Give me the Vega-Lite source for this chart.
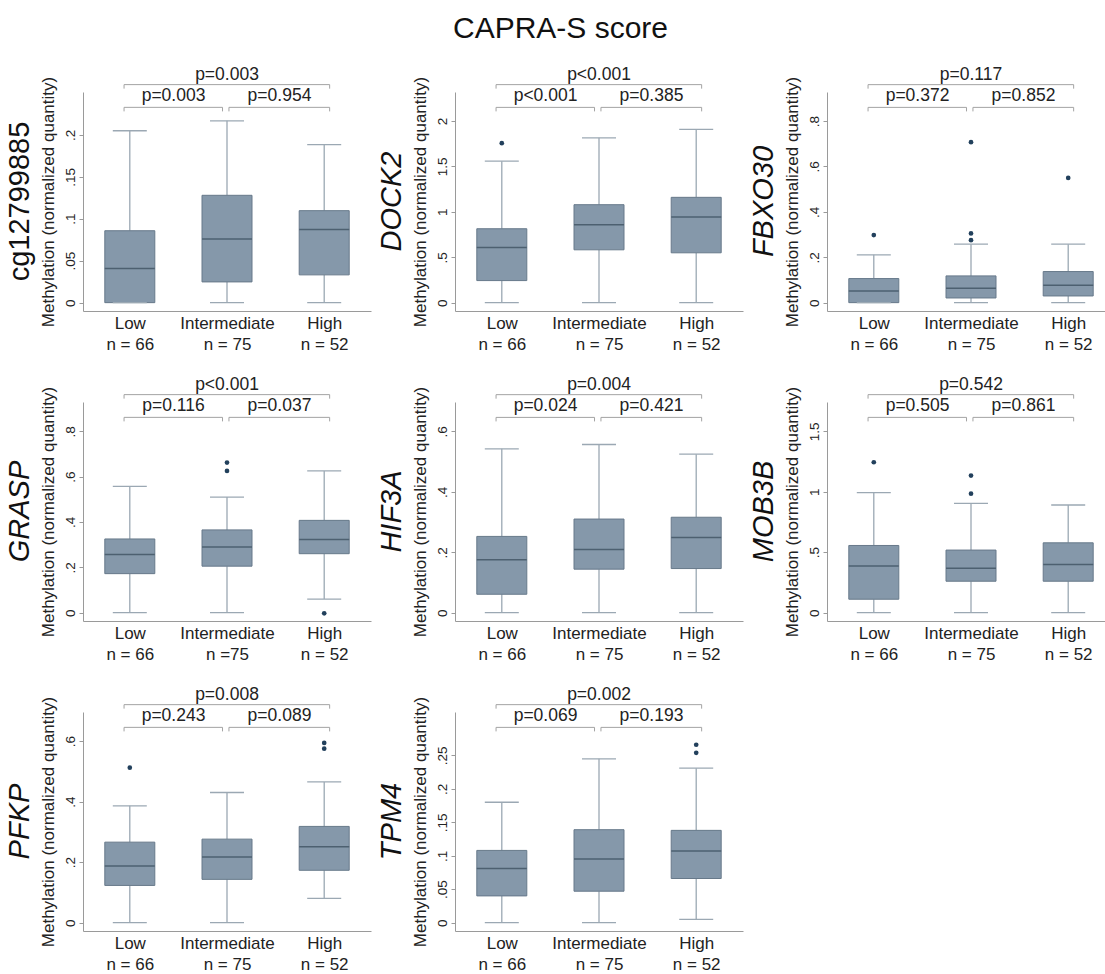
{
"$schema": "https://vega.github.io/schema/vega-lite/v6.json",
"padding": {"left": 5, "top": 14, "right": 0, "bottom": 0},
"title": {"text": "CAPRA-S score", "fontSize": 30, "fontWeight": "normal", "anchor": "middle", "offset": 22, "color": "#111"},
"datasets": {
"boxes": [
{"gene":"cg12799885","cat":1,"lo":0,"q1":0,"med":0.0406,"q3":0.0857,"hi":0.2048},
{"gene":"cg12799885","cat":2,"lo":0,"q1":0.0247,"med":0.0757,"q3":0.1279,"hi":0.2167},
{"gene":"cg12799885","cat":3,"lo":0,"q1":0.0331,"med":0.0873,"q3":0.1096,"hi":0.1884},
{"gene":"DOCK2","cat":1,"lo":0,"q1":0.243,"med":0.608,"q3":0.814,"hi":1.558},
{"gene":"DOCK2","cat":2,"lo":0,"q1":0.582,"med":0.858,"q3":1.079,"hi":1.816},
{"gene":"DOCK2","cat":3,"lo":0,"q1":0.549,"med":0.943,"q3":1.16,"hi":1.908},
{"gene":"FBXO30","cat":1,"lo":0,"q1":0,"med":0.0516,"q3":0.1061,"hi":0.2107},
{"gene":"FBXO30","cat":2,"lo":0,"q1":0.0206,"med":0.0634,"q3":0.1179,"hi":0.2578},
{"gene":"FBXO30","cat":3,"lo":0,"q1":0.0295,"med":0.0766,"q3":0.137,"hi":0.2578},
{"gene":"GRASP","cat":1,"lo":0,"q1":0.172,"med":0.257,"q3":0.325,"hi":0.557},
{"gene":"GRASP","cat":2,"lo":0,"q1":0.205,"med":0.29,"q3":0.365,"hi":0.51},
{"gene":"GRASP","cat":3,"lo":0.06,"q1":0.26,"med":0.323,"q3":0.407,"hi":0.625},
{"gene":"HIF3A","cat":1,"lo":0,"q1":0.0609,"med":0.175,"q3":0.2525,"hi":0.5426},
{"gene":"HIF3A","cat":2,"lo":0,"q1":0.144,"med":0.209,"q3":0.31,"hi":0.557},
{"gene":"HIF3A","cat":3,"lo":0,"q1":0.146,"med":0.249,"q3":0.316,"hi":0.525},
{"gene":"MOB3B","cat":1,"lo":0,"q1":0.111,"med":0.387,"q3":0.556,"hi":0.994},
{"gene":"MOB3B","cat":2,"lo":0,"q1":0.26,"med":0.368,"q3":0.518,"hi":0.905},
{"gene":"MOB3B","cat":3,"lo":0,"q1":0.26,"med":0.398,"q3":0.578,"hi":0.891},
{"gene":"PFKP","cat":1,"lo":0,"q1":0.123,"med":0.187,"q3":0.266,"hi":0.386},
{"gene":"PFKP","cat":2,"lo":0,"q1":0.143,"med":0.217,"q3":0.276,"hi":0.43},
{"gene":"PFKP","cat":3,"lo":0.08,"q1":0.173,"med":0.251,"q3":0.318,"hi":0.465},
{"gene":"TPM4","cat":1,"lo":0,"q1":0.04,"med":0.081,"q3":0.108,"hi":0.18},
{"gene":"TPM4","cat":2,"lo":0,"q1":0.047,"med":0.095,"q3":0.139,"hi":0.245},
{"gene":"TPM4","cat":3,"lo":0.005,"q1":0.066,"med":0.107,"q3":0.138,"hi":0.231}
],
"outliers": [
{"gene":"DOCK2","cat":1,"v":1.757},
{"gene":"FBXO30","cat":1,"v":0.2976},
{"gene":"FBXO30","cat":2,"v":0.2755},
{"gene":"FBXO30","cat":2,"v":0.305},
{"gene":"FBXO30","cat":2,"v":0.7072},
{"gene":"FBXO30","cat":3,"v":0.5495},
{"gene":"GRASP","cat":2,"v":0.625},
{"gene":"GRASP","cat":2,"v":0.662},
{"gene":"GRASP","cat":3,"v":-0.003},
{"gene":"MOB3B","cat":1,"v":1.245},
{"gene":"MOB3B","cat":2,"v":0.985},
{"gene":"MOB3B","cat":2,"v":1.135},
{"gene":"PFKP","cat":1,"v":0.512},
{"gene":"PFKP","cat":3,"v":0.575},
{"gene":"PFKP","cat":3,"v":0.594},
{"gene":"TPM4","cat":3,"v":0.254},
{"gene":"TPM4","cat":3,"v":0.266}
],
"sig": [
{"gene":"cg12799885","from":0.941,"to":3.056,"mid":2.0,"y":0.2598,"tip":0.255,"ty":0.2709,"p":"p=0.003"},
{"gene":"cg12799885","from":0.941,"to":1.954,"mid":1.45,"y":0.2327,"tip":0.2279,"ty":0.2462,"p":"p=0.003"},
{"gene":"cg12799885","from":2.02,"to":3.056,"mid":2.54,"y":0.2327,"tip":0.2279,"ty":0.2462,"p":"p=0.954"},
{"gene":"DOCK2","from":0.941,"to":3.056,"mid":2.0,"y":2.4015,"tip":2.3573,"ty":2.5046,"p":"p<0.001"},
{"gene":"DOCK2","from":0.941,"to":1.954,"mid":1.45,"y":2.151,"tip":2.1068,"ty":2.2762,"p":"p<0.001"},
{"gene":"DOCK2","from":2.02,"to":3.056,"mid":2.54,"y":2.151,"tip":2.1068,"ty":2.2762,"p":"p=0.385"},
{"gene":"FBXO30","from":0.941,"to":3.056,"mid":2.0,"y":0.9606,"tip":0.9429,"ty":1.0018,"p":"p=0.117"},
{"gene":"FBXO30","from":0.941,"to":1.954,"mid":1.45,"y":0.8604,"tip":0.8427,"ty":0.9105,"p":"p=0.372"},
{"gene":"FBXO30","from":2.02,"to":3.056,"mid":2.54,"y":0.8604,"tip":0.8427,"ty":0.9105,"p":"p=0.852"},
{"gene":"GRASP","from":0.941,"to":3.056,"mid":2.0,"y":0.9617,"tip":0.944,"ty":1.0029,"p":"p<0.001"},
{"gene":"GRASP","from":0.941,"to":1.954,"mid":1.45,"y":0.8614,"tip":0.8437,"ty":0.9115,"p":"p=0.116"},
{"gene":"GRASP","from":2.02,"to":3.056,"mid":2.54,"y":0.8614,"tip":0.8437,"ty":0.9115,"p":"p=0.037"},
{"gene":"HIF3A","from":0.941,"to":3.056,"mid":2.0,"y":0.722,"tip":0.7087,"ty":0.753,"p":"p=0.004"},
{"gene":"HIF3A","from":0.941,"to":1.954,"mid":1.45,"y":0.6467,"tip":0.6334,"ty":0.6844,"p":"p=0.024"},
{"gene":"HIF3A","from":2.02,"to":3.056,"mid":2.54,"y":0.6467,"tip":0.6334,"ty":0.6844,"p":"p=0.421"},
{"gene":"MOB3B","from":0.941,"to":3.056,"mid":2.0,"y":1.8046,"tip":1.7714,"ty":1.8821,"p":"p=0.542"},
{"gene":"MOB3B","from":0.941,"to":1.954,"mid":1.45,"y":1.6164,"tip":1.5832,"ty":1.7105,"p":"p=0.505"},
{"gene":"MOB3B","from":2.02,"to":3.056,"mid":2.54,"y":1.6164,"tip":1.5832,"ty":1.7105,"p":"p=0.861"},
{"gene":"PFKP","from":0.941,"to":3.056,"mid":2.0,"y":0.7204,"tip":0.7072,"ty":0.7514,"p":"p=0.008"},
{"gene":"PFKP","from":0.941,"to":1.954,"mid":1.45,"y":0.6453,"tip":0.632,"ty":0.6829,"p":"p=0.243"},
{"gene":"PFKP","from":2.02,"to":3.056,"mid":2.54,"y":0.6453,"tip":0.632,"ty":0.6829,"p":"p=0.089"},
{"gene":"TPM4","from":0.941,"to":3.056,"mid":2.0,"y":0.326,"tip":0.32,"ty":0.34,"p":"p=0.002"},
{"gene":"TPM4","from":0.941,"to":1.954,"mid":1.45,"y":0.292,"tip":0.286,"ty":0.309,"p":"p=0.069"},
{"gene":"TPM4","from":2.02,"to":3.056,"mid":2.54,"y":0.292,"tip":0.286,"ty":0.309,"p":"p=0.193"}
]
},
"columns": 3,
"spacing": {"row": 24, "column": 6},
"resolve": {"scale": {"x": "independent", "y": "independent"}},
"concat": [
{"width": 288, "height": 219,
 "title": {"text": "cg12799885", "orient": "left", "anchor": "middle", "frame": "group", "fontSize": 29, "fontWeight": "normal", "offset": 4, "color": "#111"},
 "layer": [
  {"data": {"name": "boxes"}, "transform": [{"filter": "datum.gene == 'cg12799885'"}],
   "encoding": {"x": {"field": "cat", "type": "quantitative", "scale": {"domain": [0.57, 3.43], "nice": false, "zero": false}, "axis": {"values": [1,2,3], "title": null, "labelExpr": "datum.value == 1 ? ['Low', 'n = 66'] : datum.value == 2 ? ['Intermediate', 'n = 75'] : ['High', 'n = 52']"}}},
   "layer": [
    {"mark": {"type": "rule", "color": "#9ba8b3", "strokeWidth": 1.3}, "encoding": {"y": {"field": "lo", "type": "quantitative", "scale": {"domain": [-0.00996, 0.251], "nice": false, "zero": false}, "axis": {"values": [0,0.05,0.1,0.15,0.2], "format": "~g", "labelExpr": "replace(datum.label, '0.', '.')", "title": "Methylation (normalized quantity)"}}, "y2": {"field": "q1"}}},
    {"mark": {"type": "rule", "color": "#9ba8b3", "strokeWidth": 1.3}, "encoding": {"y": {"field": "q3", "type": "quantitative"}, "y2": {"field": "hi"}}},
    {"mark": {"type": "bar", "size": 50, "fill": "#8598aa", "stroke": "#67798a", "strokeWidth": 1}, "encoding": {"y": {"field": "q1", "type": "quantitative"}, "y2": {"field": "q3"}}},
    {"mark": {"type": "tick", "orient": "horizontal", "size": 50, "thickness": 1.5, "color": "#4d6070", "opacity": 1}, "encoding": {"y": {"field": "med", "type": "quantitative"}}},
    {"mark": {"type": "tick", "orient": "horizontal", "size": 34, "thickness": 1.3, "color": "#9ba8b3", "opacity": 1}, "encoding": {"y": {"field": "hi", "type": "quantitative"}}},
    {"mark": {"type": "tick", "orient": "horizontal", "size": 34, "thickness": 1.3, "color": "#9ba8b3", "opacity": 1}, "encoding": {"y": {"field": "lo", "type": "quantitative"}}}
   ]},
  {"data": {"name": "sig"}, "transform": [{"filter": "datum.gene == 'cg12799885'"}],
   "layer": [
    {"mark": {"type": "rule", "color": "#a3a3a3", "strokeWidth": 1}, "encoding": {"x": {"field": "from", "type": "quantitative"}, "x2": {"field": "to"}, "y": {"field": "y", "type": "quantitative"}}},
    {"mark": {"type": "rule", "color": "#a3a3a3", "strokeWidth": 1}, "encoding": {"x": {"field": "from", "type": "quantitative"}, "y": {"field": "y", "type": "quantitative"}, "y2": {"field": "tip"}}},
    {"mark": {"type": "rule", "color": "#a3a3a3", "strokeWidth": 1}, "encoding": {"x": {"field": "to", "type": "quantitative"}, "y": {"field": "y", "type": "quantitative"}, "y2": {"field": "tip"}}},
    {"mark": {"type": "text", "fontSize": 17.5, "color": "#222", "baseline": "middle"}, "encoding": {"x": {"field": "mid", "type": "quantitative"}, "y": {"field": "ty", "type": "quantitative"}, "text": {"field": "p"}}}
   ]}
 ]},
{"width": 288, "height": 219,
 "title": {"text": "DOCK2", "orient": "left", "anchor": "middle", "frame": "group", "fontSize": 29, "fontWeight": "normal", "fontStyle": "italic", "offset": 4, "color": "#111"},
 "layer": [
  {"data": {"name": "boxes"}, "transform": [{"filter": "datum.gene == 'DOCK2'"}],
   "encoding": {"x": {"field": "cat", "type": "quantitative", "scale": {"domain": [0.57, 3.43], "nice": false, "zero": false}, "axis": {"values": [1,2,3], "title": null, "labelExpr": "datum.value == 1 ? ['Low', 'n = 66'] : datum.value == 2 ? ['Intermediate', 'n = 75'] : ['High', 'n = 52']"}}},
   "layer": [
    {"mark": {"type": "rule", "color": "#9ba8b3", "strokeWidth": 1.3}, "encoding": {"y": {"field": "lo", "type": "quantitative", "scale": {"domain": [-0.0921, 2.3204], "nice": false, "zero": false}, "axis": {"values": [0,0.5,1,1.5,2], "format": "~g", "labelExpr": "replace(datum.label, '0.', '.')", "title": "Methylation (normalized quantity)"}}, "y2": {"field": "q1"}}},
    {"mark": {"type": "rule", "color": "#9ba8b3", "strokeWidth": 1.3}, "encoding": {"y": {"field": "q3", "type": "quantitative"}, "y2": {"field": "hi"}}},
    {"mark": {"type": "bar", "size": 50, "fill": "#8598aa", "stroke": "#67798a", "strokeWidth": 1}, "encoding": {"y": {"field": "q1", "type": "quantitative"}, "y2": {"field": "q3"}}},
    {"mark": {"type": "tick", "orient": "horizontal", "size": 50, "thickness": 1.5, "color": "#4d6070", "opacity": 1}, "encoding": {"y": {"field": "med", "type": "quantitative"}}},
    {"mark": {"type": "tick", "orient": "horizontal", "size": 34, "thickness": 1.3, "color": "#9ba8b3", "opacity": 1}, "encoding": {"y": {"field": "hi", "type": "quantitative"}}},
    {"mark": {"type": "tick", "orient": "horizontal", "size": 34, "thickness": 1.3, "color": "#9ba8b3", "opacity": 1}, "encoding": {"y": {"field": "lo", "type": "quantitative"}}}
   ]},
  {"data": {"name": "outliers"}, "transform": [{"filter": "datum.gene == 'DOCK2'"}],
   "mark": {"type": "point", "filled": true, "size": 22, "color": "#22405c", "opacity": 1},
   "encoding": {"x": {"field": "cat", "type": "quantitative"}, "y": {"field": "v", "type": "quantitative"}}},
  {"data": {"name": "sig"}, "transform": [{"filter": "datum.gene == 'DOCK2'"}],
   "layer": [
    {"mark": {"type": "rule", "color": "#a3a3a3", "strokeWidth": 1}, "encoding": {"x": {"field": "from", "type": "quantitative"}, "x2": {"field": "to"}, "y": {"field": "y", "type": "quantitative"}}},
    {"mark": {"type": "rule", "color": "#a3a3a3", "strokeWidth": 1}, "encoding": {"x": {"field": "from", "type": "quantitative"}, "y": {"field": "y", "type": "quantitative"}, "y2": {"field": "tip"}}},
    {"mark": {"type": "rule", "color": "#a3a3a3", "strokeWidth": 1}, "encoding": {"x": {"field": "to", "type": "quantitative"}, "y": {"field": "y", "type": "quantitative"}, "y2": {"field": "tip"}}},
    {"mark": {"type": "text", "fontSize": 17.5, "color": "#222", "baseline": "middle"}, "encoding": {"x": {"field": "mid", "type": "quantitative"}, "y": {"field": "ty", "type": "quantitative"}, "text": {"field": "p"}}}
   ]}
 ]},
{"width": 288, "height": 219,
 "title": {"text": "FBXO30", "orient": "left", "anchor": "middle", "frame": "group", "fontSize": 29, "fontWeight": "normal", "fontStyle": "italic", "offset": 4, "color": "#111"},
 "layer": [
  {"data": {"name": "boxes"}, "transform": [{"filter": "datum.gene == 'FBXO30'"}],
   "encoding": {"x": {"field": "cat", "type": "quantitative", "scale": {"domain": [0.57, 3.43], "nice": false, "zero": false}, "axis": {"values": [1,2,3], "title": null, "labelExpr": "datum.value == 1 ? ['Low', 'n = 66'] : datum.value == 2 ? ['Intermediate', 'n = 75'] : ['High', 'n = 52']"}}},
   "layer": [
    {"mark": {"type": "rule", "color": "#9ba8b3", "strokeWidth": 1.3}, "encoding": {"y": {"field": "lo", "type": "quantitative", "scale": {"domain": [-0.0368, 0.9282], "nice": false, "zero": false}, "axis": {"values": [0,0.2,0.4,0.6,0.8], "format": "~g", "labelExpr": "replace(datum.label, '0.', '.')", "title": "Methylation (normalized quantity)"}}, "y2": {"field": "q1"}}},
    {"mark": {"type": "rule", "color": "#9ba8b3", "strokeWidth": 1.3}, "encoding": {"y": {"field": "q3", "type": "quantitative"}, "y2": {"field": "hi"}}},
    {"mark": {"type": "bar", "size": 50, "fill": "#8598aa", "stroke": "#67798a", "strokeWidth": 1}, "encoding": {"y": {"field": "q1", "type": "quantitative"}, "y2": {"field": "q3"}}},
    {"mark": {"type": "tick", "orient": "horizontal", "size": 50, "thickness": 1.5, "color": "#4d6070", "opacity": 1}, "encoding": {"y": {"field": "med", "type": "quantitative"}}},
    {"mark": {"type": "tick", "orient": "horizontal", "size": 34, "thickness": 1.3, "color": "#9ba8b3", "opacity": 1}, "encoding": {"y": {"field": "hi", "type": "quantitative"}}},
    {"mark": {"type": "tick", "orient": "horizontal", "size": 34, "thickness": 1.3, "color": "#9ba8b3", "opacity": 1}, "encoding": {"y": {"field": "lo", "type": "quantitative"}}}
   ]},
  {"data": {"name": "outliers"}, "transform": [{"filter": "datum.gene == 'FBXO30'"}],
   "mark": {"type": "point", "filled": true, "size": 22, "color": "#22405c", "opacity": 1},
   "encoding": {"x": {"field": "cat", "type": "quantitative"}, "y": {"field": "v", "type": "quantitative"}}},
  {"data": {"name": "sig"}, "transform": [{"filter": "datum.gene == 'FBXO30'"}],
   "layer": [
    {"mark": {"type": "rule", "color": "#a3a3a3", "strokeWidth": 1}, "encoding": {"x": {"field": "from", "type": "quantitative"}, "x2": {"field": "to"}, "y": {"field": "y", "type": "quantitative"}}},
    {"mark": {"type": "rule", "color": "#a3a3a3", "strokeWidth": 1}, "encoding": {"x": {"field": "from", "type": "quantitative"}, "y": {"field": "y", "type": "quantitative"}, "y2": {"field": "tip"}}},
    {"mark": {"type": "rule", "color": "#a3a3a3", "strokeWidth": 1}, "encoding": {"x": {"field": "to", "type": "quantitative"}, "y": {"field": "y", "type": "quantitative"}, "y2": {"field": "tip"}}},
    {"mark": {"type": "text", "fontSize": 17.5, "color": "#222", "baseline": "middle"}, "encoding": {"x": {"field": "mid", "type": "quantitative"}, "y": {"field": "ty", "type": "quantitative"}, "text": {"field": "p"}}}
   ]}
 ]},
{"width": 288, "height": 219,
 "title": {"text": "GRASP", "orient": "left", "anchor": "middle", "frame": "group", "fontSize": 29, "fontWeight": "normal", "fontStyle": "italic", "offset": 4, "color": "#111"},
 "layer": [
  {"data": {"name": "boxes"}, "transform": [{"filter": "datum.gene == 'GRASP'"}],
   "encoding": {"x": {"field": "cat", "type": "quantitative", "scale": {"domain": [0.57, 3.43], "nice": false, "zero": false}, "axis": {"values": [1,2,3], "title": null, "labelExpr": "datum.value == 1 ? ['Low', 'n = 66'] : datum.value == 2 ? ['Intermediate', 'n =75'] : ['High', 'n = 52']"}}},
   "layer": [
    {"mark": {"type": "rule", "color": "#9ba8b3", "strokeWidth": 1.3}, "encoding": {"y": {"field": "lo", "type": "quantitative", "scale": {"domain": [-0.0369, 0.9292], "nice": false, "zero": false}, "axis": {"values": [0,0.2,0.4,0.6,0.8], "format": "~g", "labelExpr": "replace(datum.label, '0.', '.')", "title": "Methylation (normalized quantity)"}}, "y2": {"field": "q1"}}},
    {"mark": {"type": "rule", "color": "#9ba8b3", "strokeWidth": 1.3}, "encoding": {"y": {"field": "q3", "type": "quantitative"}, "y2": {"field": "hi"}}},
    {"mark": {"type": "bar", "size": 50, "fill": "#8598aa", "stroke": "#67798a", "strokeWidth": 1}, "encoding": {"y": {"field": "q1", "type": "quantitative"}, "y2": {"field": "q3"}}},
    {"mark": {"type": "tick", "orient": "horizontal", "size": 50, "thickness": 1.5, "color": "#4d6070", "opacity": 1}, "encoding": {"y": {"field": "med", "type": "quantitative"}}},
    {"mark": {"type": "tick", "orient": "horizontal", "size": 34, "thickness": 1.3, "color": "#9ba8b3", "opacity": 1}, "encoding": {"y": {"field": "hi", "type": "quantitative"}}},
    {"mark": {"type": "tick", "orient": "horizontal", "size": 34, "thickness": 1.3, "color": "#9ba8b3", "opacity": 1}, "encoding": {"y": {"field": "lo", "type": "quantitative"}}}
   ]},
  {"data": {"name": "outliers"}, "transform": [{"filter": "datum.gene == 'GRASP'"}],
   "mark": {"type": "point", "filled": true, "size": 22, "color": "#22405c", "opacity": 1},
   "encoding": {"x": {"field": "cat", "type": "quantitative"}, "y": {"field": "v", "type": "quantitative"}}},
  {"data": {"name": "sig"}, "transform": [{"filter": "datum.gene == 'GRASP'"}],
   "layer": [
    {"mark": {"type": "rule", "color": "#a3a3a3", "strokeWidth": 1}, "encoding": {"x": {"field": "from", "type": "quantitative"}, "x2": {"field": "to"}, "y": {"field": "y", "type": "quantitative"}}},
    {"mark": {"type": "rule", "color": "#a3a3a3", "strokeWidth": 1}, "encoding": {"x": {"field": "from", "type": "quantitative"}, "y": {"field": "y", "type": "quantitative"}, "y2": {"field": "tip"}}},
    {"mark": {"type": "rule", "color": "#a3a3a3", "strokeWidth": 1}, "encoding": {"x": {"field": "to", "type": "quantitative"}, "y": {"field": "y", "type": "quantitative"}, "y2": {"field": "tip"}}},
    {"mark": {"type": "text", "fontSize": 17.5, "color": "#222", "baseline": "middle"}, "encoding": {"x": {"field": "mid", "type": "quantitative"}, "y": {"field": "ty", "type": "quantitative"}, "text": {"field": "p"}}}
   ]}
 ]},
{"width": 288, "height": 219,
 "title": {"text": "HIF3A", "orient": "left", "anchor": "middle", "frame": "group", "fontSize": 29, "fontWeight": "normal", "fontStyle": "italic", "offset": 4, "color": "#111"},
 "layer": [
  {"data": {"name": "boxes"}, "transform": [{"filter": "datum.gene == 'HIF3A'"}],
   "encoding": {"x": {"field": "cat", "type": "quantitative", "scale": {"domain": [0.57, 3.43], "nice": false, "zero": false}, "axis": {"values": [1,2,3], "title": null, "labelExpr": "datum.value == 1 ? ['Low', 'n = 66'] : datum.value == 2 ? ['Intermediate', 'n = 75'] : ['High', 'n = 52']"}}},
   "layer": [
    {"mark": {"type": "rule", "color": "#9ba8b3", "strokeWidth": 1.3}, "encoding": {"y": {"field": "lo", "type": "quantitative", "scale": {"domain": [-0.0277, 0.6977], "nice": false, "zero": false}, "axis": {"values": [0,0.2,0.4,0.6], "format": "~g", "labelExpr": "replace(datum.label, '0.', '.')", "title": "Methylation (normalized quantity)"}}, "y2": {"field": "q1"}}},
    {"mark": {"type": "rule", "color": "#9ba8b3", "strokeWidth": 1.3}, "encoding": {"y": {"field": "q3", "type": "quantitative"}, "y2": {"field": "hi"}}},
    {"mark": {"type": "bar", "size": 50, "fill": "#8598aa", "stroke": "#67798a", "strokeWidth": 1}, "encoding": {"y": {"field": "q1", "type": "quantitative"}, "y2": {"field": "q3"}}},
    {"mark": {"type": "tick", "orient": "horizontal", "size": 50, "thickness": 1.5, "color": "#4d6070", "opacity": 1}, "encoding": {"y": {"field": "med", "type": "quantitative"}}},
    {"mark": {"type": "tick", "orient": "horizontal", "size": 34, "thickness": 1.3, "color": "#9ba8b3", "opacity": 1}, "encoding": {"y": {"field": "hi", "type": "quantitative"}}},
    {"mark": {"type": "tick", "orient": "horizontal", "size": 34, "thickness": 1.3, "color": "#9ba8b3", "opacity": 1}, "encoding": {"y": {"field": "lo", "type": "quantitative"}}}
   ]},
  {"data": {"name": "sig"}, "transform": [{"filter": "datum.gene == 'HIF3A'"}],
   "layer": [
    {"mark": {"type": "rule", "color": "#a3a3a3", "strokeWidth": 1}, "encoding": {"x": {"field": "from", "type": "quantitative"}, "x2": {"field": "to"}, "y": {"field": "y", "type": "quantitative"}}},
    {"mark": {"type": "rule", "color": "#a3a3a3", "strokeWidth": 1}, "encoding": {"x": {"field": "from", "type": "quantitative"}, "y": {"field": "y", "type": "quantitative"}, "y2": {"field": "tip"}}},
    {"mark": {"type": "rule", "color": "#a3a3a3", "strokeWidth": 1}, "encoding": {"x": {"field": "to", "type": "quantitative"}, "y": {"field": "y", "type": "quantitative"}, "y2": {"field": "tip"}}},
    {"mark": {"type": "text", "fontSize": 17.5, "color": "#222", "baseline": "middle"}, "encoding": {"x": {"field": "mid", "type": "quantitative"}, "y": {"field": "ty", "type": "quantitative"}, "text": {"field": "p"}}}
   ]}
 ]},
{"width": 288, "height": 219,
 "title": {"text": "MOB3B", "orient": "left", "anchor": "middle", "frame": "group", "fontSize": 29, "fontWeight": "normal", "fontStyle": "italic", "offset": 4, "color": "#111"},
 "layer": [
  {"data": {"name": "boxes"}, "transform": [{"filter": "datum.gene == 'MOB3B'"}],
   "encoding": {"x": {"field": "cat", "type": "quantitative", "scale": {"domain": [0.57, 3.43], "nice": false, "zero": false}, "axis": {"values": [1,2,3], "title": null, "labelExpr": "datum.value == 1 ? ['Low', 'n = 66'] : datum.value == 2 ? ['Intermediate', 'n = 75'] : ['High', 'n = 52']"}}},
   "layer": [
    {"mark": {"type": "rule", "color": "#9ba8b3", "strokeWidth": 1.3}, "encoding": {"y": {"field": "lo", "type": "quantitative", "scale": {"domain": [-0.0692, 1.7437], "nice": false, "zero": false}, "axis": {"values": [0,0.5,1,1.5], "format": "~g", "labelExpr": "replace(datum.label, '0.', '.')", "title": "Methylation (normalized quantity)"}}, "y2": {"field": "q1"}}},
    {"mark": {"type": "rule", "color": "#9ba8b3", "strokeWidth": 1.3}, "encoding": {"y": {"field": "q3", "type": "quantitative"}, "y2": {"field": "hi"}}},
    {"mark": {"type": "bar", "size": 50, "fill": "#8598aa", "stroke": "#67798a", "strokeWidth": 1}, "encoding": {"y": {"field": "q1", "type": "quantitative"}, "y2": {"field": "q3"}}},
    {"mark": {"type": "tick", "orient": "horizontal", "size": 50, "thickness": 1.5, "color": "#4d6070", "opacity": 1}, "encoding": {"y": {"field": "med", "type": "quantitative"}}},
    {"mark": {"type": "tick", "orient": "horizontal", "size": 34, "thickness": 1.3, "color": "#9ba8b3", "opacity": 1}, "encoding": {"y": {"field": "hi", "type": "quantitative"}}},
    {"mark": {"type": "tick", "orient": "horizontal", "size": 34, "thickness": 1.3, "color": "#9ba8b3", "opacity": 1}, "encoding": {"y": {"field": "lo", "type": "quantitative"}}}
   ]},
  {"data": {"name": "outliers"}, "transform": [{"filter": "datum.gene == 'MOB3B'"}],
   "mark": {"type": "point", "filled": true, "size": 22, "color": "#22405c", "opacity": 1},
   "encoding": {"x": {"field": "cat", "type": "quantitative"}, "y": {"field": "v", "type": "quantitative"}}},
  {"data": {"name": "sig"}, "transform": [{"filter": "datum.gene == 'MOB3B'"}],
   "layer": [
    {"mark": {"type": "rule", "color": "#a3a3a3", "strokeWidth": 1}, "encoding": {"x": {"field": "from", "type": "quantitative"}, "x2": {"field": "to"}, "y": {"field": "y", "type": "quantitative"}}},
    {"mark": {"type": "rule", "color": "#a3a3a3", "strokeWidth": 1}, "encoding": {"x": {"field": "from", "type": "quantitative"}, "y": {"field": "y", "type": "quantitative"}, "y2": {"field": "tip"}}},
    {"mark": {"type": "rule", "color": "#a3a3a3", "strokeWidth": 1}, "encoding": {"x": {"field": "to", "type": "quantitative"}, "y": {"field": "y", "type": "quantitative"}, "y2": {"field": "tip"}}},
    {"mark": {"type": "text", "fontSize": 17.5, "color": "#222", "baseline": "middle"}, "encoding": {"x": {"field": "mid", "type": "quantitative"}, "y": {"field": "ty", "type": "quantitative"}, "text": {"field": "p"}}}
   ]}
 ]},
{"width": 288, "height": 219,
 "title": {"text": "PFKP", "orient": "left", "anchor": "middle", "frame": "group", "fontSize": 29, "fontWeight": "normal", "fontStyle": "italic", "offset": 4, "color": "#111"},
 "layer": [
  {"data": {"name": "boxes"}, "transform": [{"filter": "datum.gene == 'PFKP'"}],
   "encoding": {"x": {"field": "cat", "type": "quantitative", "scale": {"domain": [0.57, 3.43], "nice": false, "zero": false}, "axis": {"values": [1,2,3], "title": null, "labelExpr": "datum.value == 1 ? ['Low', 'n = 66'] : datum.value == 2 ? ['Intermediate', 'n = 75'] : ['High', 'n = 52']"}}},
   "layer": [
    {"mark": {"type": "rule", "color": "#9ba8b3", "strokeWidth": 1.3}, "encoding": {"y": {"field": "lo", "type": "quantitative", "scale": {"domain": [-0.0276, 0.6961], "nice": false, "zero": false}, "axis": {"values": [0,0.2,0.4,0.6], "format": "~g", "labelExpr": "replace(datum.label, '0.', '.')", "title": "Methylation (normalized quantity)"}}, "y2": {"field": "q1"}}},
    {"mark": {"type": "rule", "color": "#9ba8b3", "strokeWidth": 1.3}, "encoding": {"y": {"field": "q3", "type": "quantitative"}, "y2": {"field": "hi"}}},
    {"mark": {"type": "bar", "size": 50, "fill": "#8598aa", "stroke": "#67798a", "strokeWidth": 1}, "encoding": {"y": {"field": "q1", "type": "quantitative"}, "y2": {"field": "q3"}}},
    {"mark": {"type": "tick", "orient": "horizontal", "size": 50, "thickness": 1.5, "color": "#4d6070", "opacity": 1}, "encoding": {"y": {"field": "med", "type": "quantitative"}}},
    {"mark": {"type": "tick", "orient": "horizontal", "size": 34, "thickness": 1.3, "color": "#9ba8b3", "opacity": 1}, "encoding": {"y": {"field": "hi", "type": "quantitative"}}},
    {"mark": {"type": "tick", "orient": "horizontal", "size": 34, "thickness": 1.3, "color": "#9ba8b3", "opacity": 1}, "encoding": {"y": {"field": "lo", "type": "quantitative"}}}
   ]},
  {"data": {"name": "outliers"}, "transform": [{"filter": "datum.gene == 'PFKP'"}],
   "mark": {"type": "point", "filled": true, "size": 22, "color": "#22405c", "opacity": 1},
   "encoding": {"x": {"field": "cat", "type": "quantitative"}, "y": {"field": "v", "type": "quantitative"}}},
  {"data": {"name": "sig"}, "transform": [{"filter": "datum.gene == 'PFKP'"}],
   "layer": [
    {"mark": {"type": "rule", "color": "#a3a3a3", "strokeWidth": 1}, "encoding": {"x": {"field": "from", "type": "quantitative"}, "x2": {"field": "to"}, "y": {"field": "y", "type": "quantitative"}}},
    {"mark": {"type": "rule", "color": "#a3a3a3", "strokeWidth": 1}, "encoding": {"x": {"field": "from", "type": "quantitative"}, "y": {"field": "y", "type": "quantitative"}, "y2": {"field": "tip"}}},
    {"mark": {"type": "rule", "color": "#a3a3a3", "strokeWidth": 1}, "encoding": {"x": {"field": "to", "type": "quantitative"}, "y": {"field": "y", "type": "quantitative"}, "y2": {"field": "tip"}}},
    {"mark": {"type": "text", "fontSize": 17.5, "color": "#222", "baseline": "middle"}, "encoding": {"x": {"field": "mid", "type": "quantitative"}, "y": {"field": "ty", "type": "quantitative"}, "text": {"field": "p"}}}
   ]}
 ]},
{"width": 288, "height": 219,
 "title": {"text": "TPM4", "orient": "left", "anchor": "middle", "frame": "group", "fontSize": 29, "fontWeight": "normal", "fontStyle": "italic", "offset": 4, "color": "#111"},
 "layer": [
  {"data": {"name": "boxes"}, "transform": [{"filter": "datum.gene == 'TPM4'"}],
   "encoding": {"x": {"field": "cat", "type": "quantitative", "scale": {"domain": [0.57, 3.43], "nice": false, "zero": false}, "axis": {"values": [1,2,3], "title": null, "labelExpr": "datum.value == 1 ? ['Low', 'n = 66'] : datum.value == 2 ? ['Intermediate', 'n = 75'] : ['High', 'n = 52']"}}},
   "layer": [
    {"mark": {"type": "rule", "color": "#9ba8b3", "strokeWidth": 1.3}, "encoding": {"y": {"field": "lo", "type": "quantitative", "scale": {"domain": [-0.0125, 0.315], "nice": false, "zero": false}, "axis": {"values": [0,0.05,0.1,0.15,0.2,0.25], "format": "~g", "labelExpr": "replace(datum.label, '0.', '.')", "title": "Methylation (normalized quantity)"}}, "y2": {"field": "q1"}}},
    {"mark": {"type": "rule", "color": "#9ba8b3", "strokeWidth": 1.3}, "encoding": {"y": {"field": "q3", "type": "quantitative"}, "y2": {"field": "hi"}}},
    {"mark": {"type": "bar", "size": 50, "fill": "#8598aa", "stroke": "#67798a", "strokeWidth": 1}, "encoding": {"y": {"field": "q1", "type": "quantitative"}, "y2": {"field": "q3"}}},
    {"mark": {"type": "tick", "orient": "horizontal", "size": 50, "thickness": 1.5, "color": "#4d6070", "opacity": 1}, "encoding": {"y": {"field": "med", "type": "quantitative"}}},
    {"mark": {"type": "tick", "orient": "horizontal", "size": 34, "thickness": 1.3, "color": "#9ba8b3", "opacity": 1}, "encoding": {"y": {"field": "hi", "type": "quantitative"}}},
    {"mark": {"type": "tick", "orient": "horizontal", "size": 34, "thickness": 1.3, "color": "#9ba8b3", "opacity": 1}, "encoding": {"y": {"field": "lo", "type": "quantitative"}}}
   ]},
  {"data": {"name": "outliers"}, "transform": [{"filter": "datum.gene == 'TPM4'"}],
   "mark": {"type": "point", "filled": true, "size": 22, "color": "#22405c", "opacity": 1},
   "encoding": {"x": {"field": "cat", "type": "quantitative"}, "y": {"field": "v", "type": "quantitative"}}},
  {"data": {"name": "sig"}, "transform": [{"filter": "datum.gene == 'TPM4'"}],
   "layer": [
    {"mark": {"type": "rule", "color": "#a3a3a3", "strokeWidth": 1}, "encoding": {"x": {"field": "from", "type": "quantitative"}, "x2": {"field": "to"}, "y": {"field": "y", "type": "quantitative"}}},
    {"mark": {"type": "rule", "color": "#a3a3a3", "strokeWidth": 1}, "encoding": {"x": {"field": "from", "type": "quantitative"}, "y": {"field": "y", "type": "quantitative"}, "y2": {"field": "tip"}}},
    {"mark": {"type": "rule", "color": "#a3a3a3", "strokeWidth": 1}, "encoding": {"x": {"field": "to", "type": "quantitative"}, "y": {"field": "y", "type": "quantitative"}, "y2": {"field": "tip"}}},
    {"mark": {"type": "text", "fontSize": 17.5, "color": "#222", "baseline": "middle"}, "encoding": {"x": {"field": "mid", "type": "quantitative"}, "y": {"field": "ty", "type": "quantitative"}, "text": {"field": "p"}}}
   ]}
 ]}
],
"config": {
 "font": "Liberation Sans",
 "view": {"stroke": null},
 "axis": {"grid": false, "domainColor": "#9a9a9a", "tickColor": "#9a9a9a", "labelColor": "#222", "titleColor": "#222", "labelFont": "Liberation Sans", "titleFont": "Liberation Sans", "titleFontWeight": "normal"},
 "axisX": {"ticks": false, "tickSize": 0, "labelFontSize": 17, "labelLineHeight": 21, "labelPadding": 4, "labelAngle": 0},
 "axisY": {"labelAngle": 270, "labelAlign": "center", "labelBaseline": "bottom", "labelFontSize": 13.5, "tickSize": 4, "labelPadding": 2, "titleFontSize": 17, "titlePadding": 6}
}
}
